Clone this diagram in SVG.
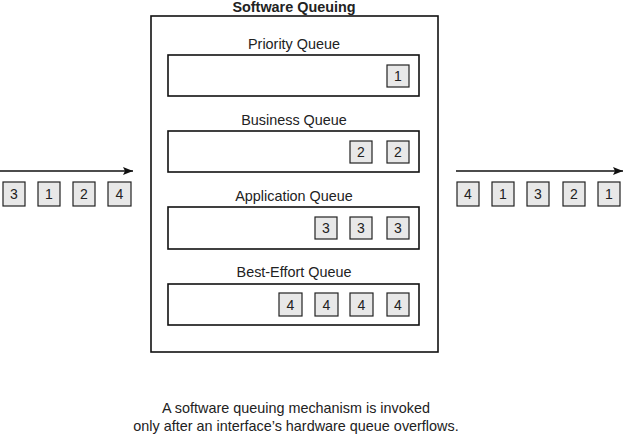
<svg xmlns="http://www.w3.org/2000/svg" width="625" height="436" viewBox="0 0 625 436">
<style>
text{font-family:"Liberation Sans",Arial,sans-serif;font-size:14.4px;fill:#222;text-anchor:middle}
.t{font-weight:bold}
.q{fill:#fff;stroke:#111;stroke-width:1.6}
.main{fill:#fff;stroke:#111;stroke-width:1.6}
.p rect{fill:#e8e8e8;stroke:#222;stroke-width:1.2}
.p text{font-size:14px}
.c{stroke:#111;stroke-width:1.4;fill:none}
</style>
<defs>
<marker id="ah" viewBox="0 0 10 8" refX="10" refY="4" markerWidth="10" markerHeight="8" markerUnits="userSpaceOnUse" orient="auto">
<path d="M0,0 L10,4 L0,8 L2,4 Z" fill="#111"/>
</marker>
</defs>
<rect width="625" height="436" fill="#fff"/>
<g id="software-queuing">
<text class="t" x="294" y="12">Software Queuing</text>
<rect class="main" x="151" y="16" width="287" height="336"/>
</g>
<g id="priority-queue">
<text x="294" y="49">Priority Queue</text>
<rect class="q" x="168" y="55" width="251" height="41"/>
<g class="p"><rect x="387" y="65" width="22" height="22"/><text x="398" y="81">1</text></g>
</g>
<g id="business-queue">
<text x="294" y="125">Business Queue</text>
<rect class="q" x="168" y="131" width="251" height="41"/>
<g class="p"><rect x="350" y="141" width="22" height="22"/><text x="361" y="157">2</text>
<rect x="387" y="141" width="22" height="22"/><text x="398" y="157">2</text></g>
</g>
<g id="application-queue">
<text x="294" y="201">Application Queue</text>
<rect class="q" x="168" y="207" width="251" height="42"/>
<g class="p"><rect x="315" y="217" width="22" height="22"/><text x="326" y="233">3</text>
<rect x="350" y="217" width="22" height="22"/><text x="361" y="233">3</text>
<rect x="387" y="217" width="22" height="22"/><text x="398" y="233">3</text></g>
</g>
<g id="best-effort-queue">
<text x="294" y="277">Best-Effort Queue</text>
<rect class="q" x="168" y="284" width="251" height="41"/>
<g class="p"><rect x="279" y="293" width="23" height="23"/><text x="290.5" y="310">4</text>
<rect x="315" y="293" width="23" height="23"/><text x="326.5" y="310">4</text>
<rect x="350" y="293" width="23" height="23"/><text x="361.5" y="310">4</text>
<rect x="387" y="293" width="22" height="23"/><text x="398" y="310">4</text></g>
</g>
<g id="input-packets" class="p">
<rect x="3" y="182" width="22" height="24"/><text x="14" y="199">3</text>
<rect x="38" y="182" width="22" height="24"/><text x="49" y="199">1</text>
<rect x="73" y="182" width="22" height="24"/><text x="84" y="199">2</text>
<rect x="108" y="182" width="23" height="24"/><text x="119.5" y="199">4</text>
</g>
<g id="output-packets" class="p">
<rect x="457" y="182" width="22" height="24"/><text x="468" y="199">4</text>
<rect x="492" y="182" width="22" height="24"/><text x="503" y="199">1</text>
<rect x="527" y="182" width="22" height="24"/><text x="538" y="199">3</text>
<rect x="563" y="182" width="22" height="24"/><text x="574" y="199">2</text>
<rect x="598" y="182" width="22" height="24"/><text x="609" y="199">1</text>
</g>
<g id="connectors">
<line class="c" x1="0" y1="171" x2="133" y2="171" marker-end="url(#ah)"/>
<line class="c" x1="456" y1="171" x2="623" y2="171" marker-end="url(#ah)"/>
</g>
<g id="caption">
<text x="296" y="413">A software queuing mechanism is invoked</text>
<text x="296" y="431">only after an interface’s hardware queue overflows.</text>
</g>
</svg>
